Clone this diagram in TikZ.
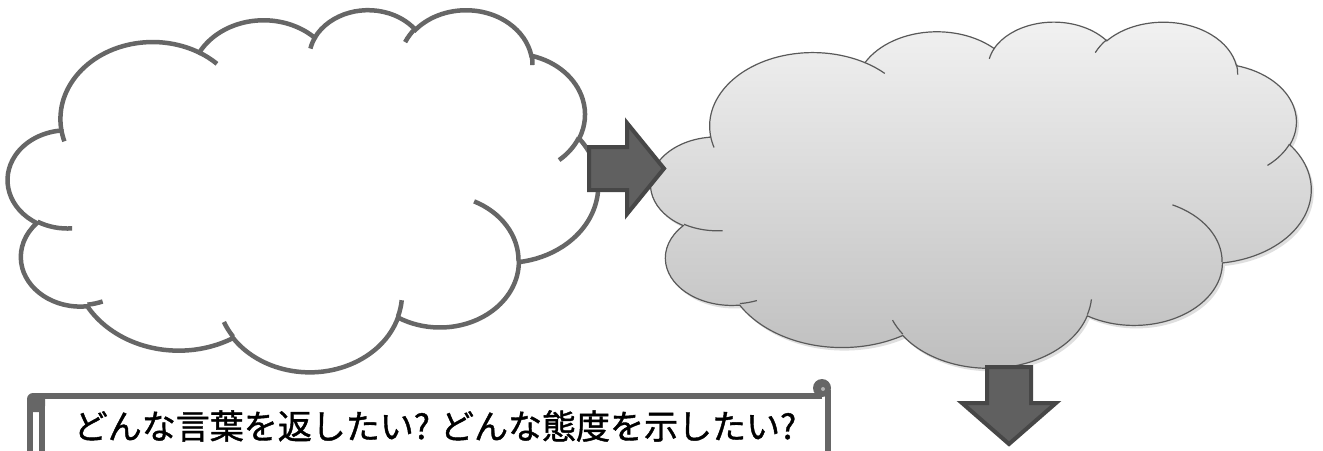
\documentclass[tikz,border=0pt]{standalone}
\usepackage{fontspec}
\newfontfamily\jpfont[FakeBold=1.2]{Noto Sans CJK JP}
\usepackage{xcolor}
\usepackage{tikz}
\usetikzlibrary{shadows}

\definecolor{puffline}{HTML}{666666}
\definecolor{arrowfill}{HTML}{606060}
\definecolor{arrowline}{HTML}{474747}
\definecolor{cloudtop}{HTML}{F2F2F2}
\definecolor{cloudbot}{HTML}{BDBDBD}
\definecolor{cloudedge}{HTML}{595959}

\tikzset{
  /pgf/foreach/puffarc/.style={evaluate={\s as \ta using atan2(\w*sin(\s),\h*cos(\s))},
    evaluate={\s as \tb using atan2(\w*sin(\s+\d),\h*cos(\s+\d))},
    evaluate={\s as \dd using \tb-\ta-360*round((\tb-\ta-\d)/360)}},
  whitecloud/.style={draw=puffline,line width=2.25pt,fill=white},
  whitecurl/.style={draw=puffline,line width=2.25pt},
  graycloud/.style={draw=cloudedge,line width=0.6pt,top color=cloudtop,bottom color=cloudbot,
    drop shadow={opacity=0.25,shadow xshift=1.2pt,shadow yshift=-1.5pt}},
  graycurl/.style={draw=cloudedge,line width=0.6pt},
  blockarrow/.style={draw=arrowline,fill=arrowfill,line width=2pt},
  scrollline/.style={draw=puffline,line width=3pt}
}

\newcommand{\cloudpuffs}{(39,143.7)
  \foreach \w/\h/\s/\d [puffarc] in {67.53/91.90/-190.4875/123.7805,
    53.33/72.67/-144.1024/89.9452, 43.65/59.45/-145.8079/99.7230,
    48.57/65.95/-130.9861/117.2417, 53.33/72.73/-78.7089/109.0269,
    67.75/92.20/-46.2673/130.2690, 57.85/78.67/0.6250/114.0333,
    67.52/92.15/22.4516/115.1726, 77.20/105.43/66.2426/75.7110,
    43.60/59.18/-274.9421/146.7356, 43.45/59.45/-246.8285/152.5189}
  {arc[start angle=\ta,delta angle=\dd,x radius=\w,y radius=\h]} -- cycle}

\newcommand{\cloudcurls}{%
  \foreach \px/\py/\w/\h/\s/\d [puffarc] in {46.93/261.77/43.45/59.45/86.742/26.4295,
    69.28/348.99/43.60/59.18/73.6105/11.4475, 164.78/390.90/67.52/92.15/137.6242/14.0811,
    288.27/347.51/67.52/92.15/6.4533/15.9984, 341.29/229.54/57.85/78.67/-70.2924/70.9174,
    417.98/153.54/53.33/72.73/30.3180/27.7515, 383.24/54.26/48.57/65.95/-13.7443/14.8589,
    290.78/39.52/48.57/65.95/-149.1815/18.1954, 221.41/47.20/43.65/59.45/-163.4943/17.843,
    140.00/51.92/67.53/91.90/-66.7070/12.3194, 41.27/157.89/67.53/91.90/157.6544/11.8582}
  {(\px,\py) arc[start angle=\ta,delta angle=\dd,x radius=\w,y radius=\h]}}

\begin{document}
\begin{tikzpicture}[x=0.5pt,y=-0.5pt]
\useasboundingbox (0,0) rectangle (1323,450);
\fill[white] (0,0) rectangle (1323,450);

\begin{scope}[shift={(8,9)},x=0.6829pt,y=-0.4190pt]
\draw[whitecloud] \cloudpuffs;
\draw[whitecurl] \cloudcurls;
\end{scope}

\begin{scope}[shift={(651,21)},x=0.7639pt,y=-0.4005pt]
\draw[graycloud] \cloudpuffs;
\draw[graycurl] \cloudcurls;
\end{scope}

\coordinate (arr1) at (589,168.5);
\draw[blockarrow] (arr1) ++(0,-21.5) -- ++(38,0) -- ++(0,-24) -- ++(37,45.5)
  -- ++(-37,45.5) -- ++(0,-24) -- ++(-38,0) -- cycle;

\coordinate (arr2) at (1009,367);
\draw[blockarrow] (arr2) ++(-22,0) -- ++(44,0) -- ++(0,36) -- ++(25,0)
  -- ++(-47,41) -- ++(-47,-41) -- ++(25,0) -- cycle;

\fill[puffline,rounded corners=3pt] (27,393) rectangle (45,412);
\draw[scrollline] (30,452) -- (30,400);
\draw[scrollline] (42,406) -- (42,452);
\draw[scrollline] (40,396) -- (822,396);
\draw[scrollline] (828,390) -- (828,452);
\fill[puffline] (822,388) circle (9);
\fill[gray!60] (823,389) circle (2);

\node[font=\jpfont\fontsize{17pt}{20pt}\selectfont] (question) at (435,426)
  {どんな言葉を返したい? どんな態度を示したい?};
\end{tikzpicture}
\end{document}
